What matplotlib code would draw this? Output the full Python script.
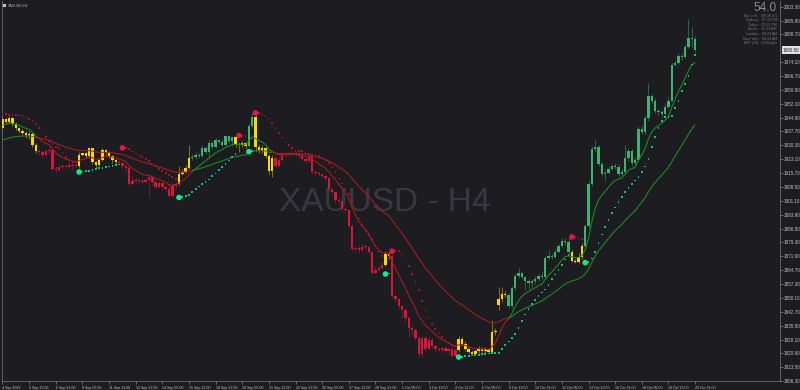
import numpy as np
import matplotlib.pyplot as plt
from matplotlib.collections import LineCollection
from matplotlib.patches import Rectangle
from matplotlib.transforms import blended_transform_factory

# XAUUSD H4 bars, 4 Sep - 20 Oct 2023
first_open = 1939.5
gap_opens = {149: 1846.3}  # weekend gap on 9 Oct

closes = [
    1944.2, 1942.6, 1944.7, 1941.6, 1939.5, 1937.9, 1936.8, 1935.8, 1936.3, 1930.5,
    1927.4, 1926.8, 1925.3, 1927.4, 1927.9, 1917.9, 1917.4, 1918.9, 1919.5, 1918.9,
    1920.0, 1919.5, 1919.5, 1925.3, 1926.3, 1924.7, 1928.9, 1921.6, 1920.0, 1922.6,
    1927.9, 1926.8, 1924.7, 1922.6, 1921.6, 1921.0, 1919.5, 1918.4, 1910.0, 1911.6,
    1912.1, 1911.6, 1911.0, 1912.1, 1913.7, 1911.0, 1908.4, 1910.5, 1908.4, 1907.4,
    1903.7, 1908.9, 1910.0, 1915.3, 1916.3, 1918.4, 1923.7, 1924.2, 1925.3, 1924.7,
    1928.9, 1926.8, 1931.6, 1929.5, 1933.1, 1932.1, 1930.5, 1935.3, 1932.6, 1934.7,
    1931.0, 1930.5, 1931.6, 1930.0, 1940.5, 1945.3, 1929.5, 1927.9, 1928.9, 1924.7,
    1916.8, 1923.7, 1919.5, 1922.6, 1925.3, 1925.8, 1925.8, 1926.3, 1925.8, 1924.7,
    1923.1, 1922.1, 1924.7, 1916.3, 1915.8, 1915.3, 1914.2, 1913.1, 1907.4, 1905.8,
    1901.6, 1901.0, 1896.8, 1896.3, 1887.9, 1875.8, 1876.3, 1875.3, 1876.8, 1876.8,
    1874.2, 1863.1, 1864.7, 1865.8, 1867.4, 1873.1, 1872.1, 1851.0, 1849.5, 1845.8,
    1843.7, 1839.5, 1834.2, 1833.1, 1828.9, 1820.5, 1828.9, 1823.1, 1827.9, 1824.7,
    1823.1, 1822.6, 1823.7, 1822.1, 1823.1, 1819.5, 1822.6, 1828.4, 1825.8, 1823.1,
    1821.6, 1820.5, 1822.1, 1823.1, 1822.1, 1823.1, 1821.6, 1832.1, 1832.6, 1849.5,
    1852.1, 1851.6, 1845.8, 1855.3, 1861.6, 1863.1, 1861.0, 1858.9, 1857.9, 1858.9,
    1860.0, 1861.6, 1861.0, 1871.0, 1872.1, 1871.6, 1874.2, 1877.4, 1880.0, 1879.5,
    1874.2, 1869.5, 1868.9, 1871.6, 1877.4, 1887.9, 1910.0, 1928.4, 1929.5, 1920.5,
    1915.3, 1915.8, 1917.9, 1919.5, 1918.9, 1915.3, 1916.3, 1923.7, 1927.4, 1921.0,
    1922.6, 1938.9, 1937.4, 1944.7, 1956.3, 1953.7, 1948.4, 1947.9, 1946.8, 1950.5,
    1953.7, 1972.6, 1973.7, 1977.4, 1976.8, 1982.1, 1986.8, 1986.3, 1980.5,
]
highs = [
    1945.8, 1944.7, 1945.8, 1945.3, 1942.6, 1940.0, 1938.9, 1937.9, 1937.9, 1937.4,
    1931.6, 1928.4, 1927.9, 1928.4, 1929.5, 1928.9, 1919.5, 1920.0, 1920.5, 1920.5,
    1921.6, 1921.0, 1921.6, 1926.8, 1926.5, 1926.8, 1929.0, 1928.9, 1922.1, 1923.7,
    1928.9, 1928.5, 1927.4, 1925.3, 1923.1, 1922.6, 1921.6, 1920.0, 1919.5, 1913.7,
    1913.7, 1913.1, 1913.1, 1913.1, 1914.7, 1913.1, 1911.6, 1911.6, 1911.6, 1909.5,
    1910.0, 1910.5, 1911.0, 1919.5, 1917.9, 1920.0, 1930.5, 1925.8, 1926.8, 1926.3,
    1930.5, 1930.0, 1933.1, 1932.6, 1934.2, 1933.7, 1933.7, 1935.3, 1935.5, 1934.7,
    1935.0, 1932.1, 1932.6, 1932.1, 1942.1, 1947.4, 1946.3, 1931.0, 1930.5, 1929.5,
    1925.8, 1925.3, 1924.7, 1924.2, 1926.8, 1926.8, 1926.8, 1927.4, 1927.4, 1926.3,
    1925.8, 1924.2, 1925.4, 1924.9, 1917.4, 1916.8, 1915.8, 1914.7, 1913.7, 1907.9,
    1903.7, 1903.1, 1902.1, 1897.9, 1896.3, 1888.9, 1877.4, 1877.9, 1878.4, 1878.4,
    1877.4, 1874.7, 1866.8, 1867.4, 1868.9, 1874.6, 1874.2, 1874.7, 1851.6, 1850.0,
    1846.3, 1844.7, 1840.5, 1835.8, 1834.2, 1830.0, 1830.5, 1830.0, 1830.0, 1829.5,
    1825.3, 1824.2, 1824.7, 1824.2, 1824.7, 1824.6, 1823.7, 1830.0, 1829.5, 1827.4,
    1824.2, 1822.6, 1823.1, 1824.7, 1824.2, 1824.2, 1823.7, 1838.4, 1834.2, 1855.8,
    1855.8, 1853.7, 1852.6, 1856.3, 1863.1, 1865.8, 1864.2, 1861.6, 1860.0, 1860.0,
    1861.6, 1862.6, 1864.2, 1872.1, 1875.3, 1873.7, 1875.8, 1878.4, 1881.6, 1881.6,
    1882.1, 1875.3, 1870.5, 1873.7, 1878.9, 1888.9, 1911.6, 1930.0, 1933.7, 1930.5,
    1921.6, 1917.4, 1919.5, 1920.5, 1921.0, 1920.5, 1917.9, 1930.5, 1928.9, 1928.4,
    1924.2, 1940.5, 1941.0, 1946.3, 1963.1, 1957.4, 1955.3, 1949.5, 1948.9, 1952.1,
    1955.8, 1974.2, 1975.3, 1978.9, 1978.9, 1983.7, 1996.8, 1992.6, 1987.9,
]
lows = [
    1938.4, 1941.6, 1942.1, 1940.5, 1938.4, 1936.8, 1935.8, 1934.2, 1933.7, 1929.5,
    1926.3, 1925.3, 1923.7, 1924.2, 1925.8, 1916.8, 1916.3, 1916.8, 1917.9, 1917.9,
    1918.4, 1917.4, 1918.4, 1918.4, 1924.7, 1923.7, 1923.7, 1920.5, 1918.4, 1919.5,
    1922.1, 1925.3, 1923.7, 1921.0, 1920.2, 1920.4, 1917.9, 1916.3, 1908.9, 1909.5,
    1910.5, 1910.5, 1910.0, 1910.5, 1903.1, 1909.5, 1907.4, 1907.9, 1906.8, 1906.3,
    1902.9, 1903.4, 1907.9, 1909.5, 1914.7, 1915.8, 1917.9, 1922.6, 1923.1, 1923.7,
    1924.2, 1925.8, 1923.7, 1928.4, 1928.9, 1931.0, 1929.5, 1930.0, 1931.6, 1930.0,
    1929.5, 1927.0, 1929.5, 1928.9, 1929.5, 1939.5, 1927.6, 1926.3, 1926.3, 1923.7,
    1915.3, 1913.7, 1918.4, 1918.9, 1922.1, 1924.2, 1924.7, 1925.3, 1924.7, 1923.7,
    1922.1, 1921.0, 1921.6, 1915.3, 1914.7, 1914.2, 1913.1, 1912.1, 1906.3, 1904.7,
    1900.0, 1899.5, 1895.8, 1894.7, 1886.8, 1874.7, 1874.2, 1873.7, 1874.7, 1875.8,
    1873.1, 1862.6, 1863.1, 1864.2, 1865.8, 1866.8, 1870.5, 1850.0, 1847.9, 1844.2,
    1839.5, 1837.4, 1829.5, 1831.0, 1827.4, 1818.9, 1819.5, 1822.1, 1822.6, 1823.1,
    1822.1, 1821.6, 1821.6, 1821.0, 1820.5, 1818.9, 1819.2, 1821.6, 1824.7, 1822.1,
    1821.0, 1820.6, 1820.6, 1821.0, 1821.0, 1821.0, 1821.0, 1821.2, 1830.5, 1843.7,
    1847.9, 1850.5, 1844.7, 1844.7, 1854.2, 1860.5, 1860.0, 1854.2, 1854.2, 1855.3,
    1857.4, 1858.9, 1860.0, 1860.0, 1870.5, 1870.5, 1871.0, 1874.2, 1876.3, 1877.9,
    1873.1, 1868.9, 1868.6, 1868.6, 1870.5, 1876.3, 1886.8, 1908.9, 1926.8, 1919.5,
    1914.2, 1912.1, 1915.3, 1917.4, 1917.9, 1913.7, 1914.2, 1915.3, 1922.1, 1919.5,
    1919.5, 1922.1, 1936.3, 1936.3, 1943.1, 1952.6, 1947.4, 1946.3, 1945.3, 1945.8,
    1950.0, 1953.7, 1972.1, 1973.1, 1975.3, 1976.3, 1981.6, 1981.6, 1979.5,
]

# trend filter colour of each candle: Y neutral, R bearish, G bullish
bar_trend = ("Y" * 11 + "R" * 12 + "Y" * 12 + "R" * 18 + "Y" * 4 + "G" * 13
             + "Y" * 4 + "G" * 2 + "Y" * 6 + "R" * 33 + "Y" * 2 + "R" * 20
             + "Y" * 15 + "G" * 19 + "Y" * 4 + "G" * 34)

# indicator settings and their values at the left edge of the chart
fast_period = 10
slow_period = 35
fast_start = 1941.0
slow_start = 1933.1
sar_start = 1946.8

date_labels = [
    "4 Sep 2023", "5 Sep 13:00", "6 Sep 21:00", "8 Sep 05:00", "11 Sep 13:00",
    "12 Sep 21:00", "14 Sep 05:00", "15 Sep 13:00", "18 Sep 21:00", "20 Sep 05:00",
    "21 Sep 13:00", "22 Sep 21:00", "26 Sep 05:00", "27 Sep 13:00", "28 Sep 21:00",
    "2 Oct 05:00", "3 Oct 13:00", "4 Oct 21:00", "6 Oct 05:00", "9 Oct 13:00",
    "10 Oct 21:00", "12 Oct 05:00", "13 Oct 13:00", "16 Oct 21:00", "18 Oct 05:00",
    "19 Oct 13:00", "20 Oct 21:00",
]
price_ticks = [
    1806.30, 1813.50, 1820.90, 1828.10, 1835.50, 1842.70, 1850.10, 1857.30,
    1864.70, 1871.90, 1879.30, 1886.50, 1893.90, 1901.10, 1908.50, 1915.70,
    1923.10, 1930.30, 1937.70, 1944.90, 1952.10, 1959.50, 1966.70, 1974.10,
    1988.70, 1995.90, 2003.30,
]
info_lines = [
    "Bar Left :  (00:36:37)", "Sydney :  07:23 PM", "Tokyo :  05:23 PM",
    "Berlin :  10:23 AM", "London :  09:23 AM", "New York :  04:23 AM",
    "ATR (20):  2318 pips",
]
spread_value = "54.0"

BG = "#1c1c21"
CANDLE = {"R": "#dc143c", "Y": "#ffd700", "G": "#3cb371"}
LINE_UP, LINE_DN = "#1f8a24", "#a81e1e"
FONT = ["Liberation Sans", "DejaVu Sans"]


def ema(values, period, start):
    k = 2.0 / (period + 1)
    out = [start]
    for v in values[1:]:
        out.append(out[-1] + k * (v - out[-1]))
    return np.array(out)


def parabolic_sar(hi, lo, start, step=0.02, max_af=0.2):
    # starts in a downtrend (dots above price)
    n = len(hi)
    sar = np.zeros(n)
    trend = np.zeros(n, dtype=int)
    flip = np.zeros(n, dtype=bool)
    s, tr, ep, af = start, -1, lo[0], step
    sar[0], trend[0] = s, tr
    for i in range(1, n):
        s = s + af * (ep - s)
        if tr > 0:
            s = min(s, lo[i - 1], lo[max(i - 2, 0)])
            if lo[i] < s:
                tr, s, ep, af = -1, ep, lo[i], step
                flip[i] = True
            elif hi[i] > ep:
                ep, af = hi[i], min(af + step, max_af)
        else:
            s = max(s, hi[i - 1], hi[max(i - 2, 0)])
            if hi[i] > s:
                tr, s, ep, af = 1, ep, hi[i], step
                flip[i] = True
            elif lo[i] < ep:
                ep, af = lo[i], min(af + step, max_af)
        sar[i], trend[i] = s, tr
    return sar, trend, flip


def colored_line(ax, x, y, up_mask, lw=0.8):
    segs = [[(x[i - 1], y[i - 1]), (x[i], y[i])] for i in range(1, len(x))]
    cols = [LINE_UP if up_mask[i] else LINE_DN for i in range(1, len(x))]
    ax.add_collection(LineCollection(segs, colors=cols, linewidths=lw, zorder=4))


closes = np.array(closes)
highs = np.array(highs)
lows = np.array(lows)
opens = np.concatenate([[first_open], closes[:-1]])
for i, v in gap_opens.items():
    opens[i] = v
n = len(closes)
x = np.arange(n)

fig = plt.figure(figsize=(8, 3.9), dpi=100, facecolor=BG)
ax = fig.add_axes([2 / 800, 9 / 390, 778 / 800, 380 / 390])
ax.set_facecolor(BG)

# candles
body_cols = [CANDLE[c] for c in bar_trend]
body_lo = np.minimum(opens, closes)
body_h = np.maximum(np.abs(closes - opens), 0.35)
ax.vlines(x, lows, highs, colors=body_cols, linewidth=0.6, alpha=0.55, zorder=2)
ax.bar(x, body_h, bottom=body_lo, width=0.72, color=body_cols, linewidth=0, zorder=3)

# moving averages, coloured by which one is on top
fast = ema(closes, fast_period, fast_start)
slow = ema(closes, slow_period, slow_start)
up = fast > slow
colored_line(ax, x, slow, up)
colored_line(ax, x, fast, up)

# parabolic SAR dots, big dot where it flips
sar, sar_trend, sar_flip = parabolic_sar(highs, lows, sar_start)
dot_cols = np.where(sar_trend > 0, "#10c27a", "#a3122e")
ax.scatter(x[~sar_flip], sar[~sar_flip], s=1.6, marker="s", c=dot_cols[~sar_flip],
           linewidths=0, zorder=5)
flip_cols = np.where(sar_trend > 0, "#14e88e", "#e0194a")
ax.scatter(x[sar_flip], sar[sar_flip], s=16, marker="o", c=flip_cols[sar_flip],
           linewidths=0, zorder=6)

# watermark
ax.text(0.492, 0.47, "XAUUSD - H4", transform=ax.transAxes, ha="center", va="center",
        fontsize=24, color="#38383e", family=FONT, zorder=1)

ax.set_xlim(-0.15, 233.5)
ax.set_ylim(1806.3, 2006.3)

# axes in the MT4 style
ax.spines["top"].set_visible(False)
for side in ["left", "right", "bottom"]:
    ax.spines[side].set_color("#6c6c70")
    ax.spines[side].set_linewidth(0.6)

ax.yaxis.tick_right()
ax.set_yticks(price_ticks)
ax.set_yticklabels([f"{v:.2f}" for v in price_ticks], family=FONT)
ax.tick_params(axis="y", length=2, width=0.5, color="#8a8a8a", labelsize=3.3,
               labelcolor="#c4c4c4", pad=1)

ax.set_xticks(np.arange(0, n, 8)[: len(date_labels)])
ax.set_xticklabels(date_labels, family=FONT)
for lab in ax.get_xticklabels():
    lab.set_ha("left")
ax.tick_params(axis="x", length=2.5, width=0.5, color="#8a8a8a", labelsize=2.6,
               labelcolor="#c4c4c4", pad=0.8)

# current price box on the price scale
tr = blended_transform_factory(ax.transAxes, ax.transData)
ax.text(1.004, closes[-1], f"{closes[-1]:.2f}", transform=tr, ha="left", va="center",
        fontsize=3.3, color=BG, family=FONT, clip_on=False,
        bbox=dict(boxstyle="square,pad=0.25", fc="#e4e4e4", ec="none"))

# symbol caption top left
fig.add_artist(Rectangle((3 / 800, 1 - 7 / 390), 3 / 800, 3 / 390, transform=fig.transFigure,
                         fc="#c8c8c8", ec="none"))
fig.text(8 / 800, 1 - 5.5 / 390, "XAUUSD,H4", fontsize=2.6, color="#b8b8b8",
         family=FONT, va="center", ha="left")

# info panel top right
fig.text(777 / 800, 1 - 8 / 390, spread_value, fontsize=8.5, color="#8c8c8c",
         family=FONT, ha="right", va="center")
for k, line in enumerate(info_lines):
    fig.text(777 / 800, 1 - (15.7 + 4.6 * k) / 390, line, fontsize=2.6, color="#7a7a7a",
             family=FONT, ha="right", va="center")

fig.savefig("out.png", dpi=100, facecolor=BG)
